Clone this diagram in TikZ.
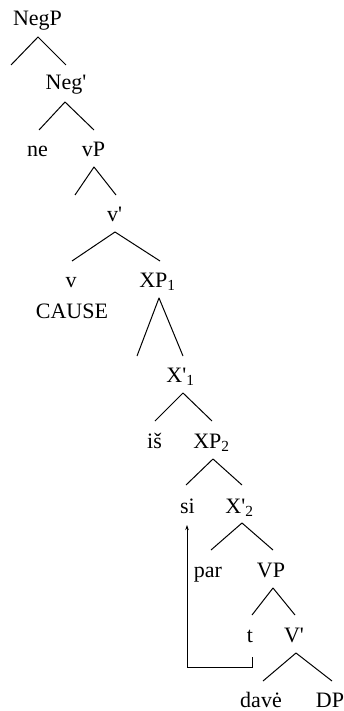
\documentclass[tikz,border=0pt]{standalone}
\usepackage{fontspec}
\setmainfont{Liberation Serif}
\usetikzlibrary{arrows.meta}
\newcommand{\pr}{\textquotesingle}
\begin{document}
\begin{tikzpicture}[x=1pt,y=-1pt,
  lbl/.style={anchor=base,inner sep=0pt,font=\fontsize{22}{25}\selectfont},
  br/.style={line width=1pt,line join=round},
  mv/.style={line width=0.8pt,-{Stealth[length=5pt,width=3.5pt]}}]
\useasboundingbox (0,0) rectangle (344,711);
% labels
\node[lbl] (negp) at (37.5,26) {NegP};
\node[lbl] (negb) at (66,90) {Neg\pr};
\node[lbl] (ne) at (37.5,157) {ne};
\node[lbl] (vp) at (93.5,157) {vP};
\node[lbl] (vb) at (114.5,222) {v\pr};
\node[lbl] (v) at (71,287) {v};
\node[lbl] (cause) at (72,318) {CAUSE};
\node[lbl] (xp1) at (157.5,287) {XP\textsubscript{1}};
\node[lbl] (xb1) at (180.5,382) {X\pr\textsubscript{1}};
\node[lbl] (is) at (154.5,448) {iš};
\node[lbl] (xp2) at (211.5,448) {XP\textsubscript{2}};
\node[lbl] (si) at (187.5,513) {si};
\node[lbl] (xb2) at (239.5,513) {X\pr\textsubscript{2}};
\node[lbl] (par) at (208,577) {par};
\node[lbl] (vpp) at (271,577) {VP};
\node[lbl] (t) at (250,642) {t};
\node[lbl] (vbar) at (294,642) {V\pr};
\node[lbl] (dave) at (261,707) {davė};
\node[lbl] (dp) at (330,707) {DP};
% branches
\coordinate (a1) at (38,37);  \coordinate (l1) at (11,65);  \coordinate (r1) at (66,65);
\coordinate (a2) at (65,102); \coordinate (l2) at (39,130); \coordinate (r2) at (94,130);
\coordinate (a3) at (94,167); \coordinate (l3) at (75,195); \coordinate (r3) at (116,195);
\coordinate (a4) at (115,232); \coordinate (l4) at (72,261); \coordinate (r4) at (160,261);
\coordinate (a5) at (159,298); \coordinate (l5) at (137,356); \coordinate (r5) at (183,356);
\coordinate (a6) at (183,393); \coordinate (l6) at (155,421); \coordinate (r6) at (212,421);
\coordinate (a7) at (213,459); \coordinate (l7) at (186,485); \coordinate (r7) at (242,485);
\coordinate (a8) at (242,523); \coordinate (l8) at (211,550); \coordinate (r8) at (273,550);
\coordinate (a9) at (273,588); \coordinate (l9) at (252,615); \coordinate (r9) at (295,615);
\coordinate (a10) at (296,653); \coordinate (l10) at (263,681); \coordinate (r10) at (332,681);
\foreach \i in {1,...,10}{\draw[br] (l\i) -- (a\i) -- (r\i);}
% movement arrow
\coordinate (tstart) at (252,657);
\coordinate (tb) at (252,667);
\coordinate (sb) at (187,667);
\coordinate (stip) at (187,525);
\draw[mv] (tstart) -- (tb) -- (sb) -- (stip);
\end{tikzpicture}
\end{document}
